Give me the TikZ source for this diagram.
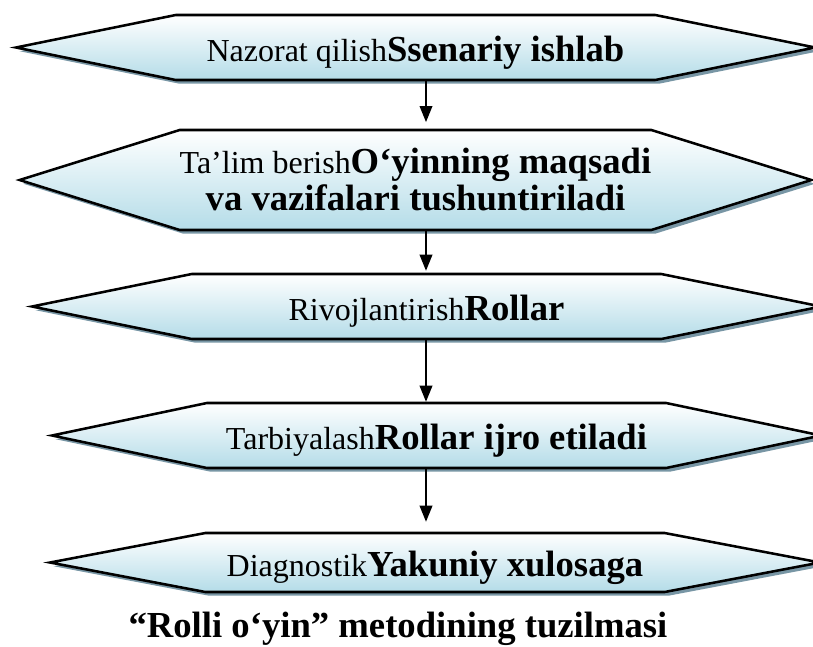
\documentclass[tikz,border=0pt]{standalone}
\usepackage{fontspec}
\setmainfont{Liberation Serif}
\usetikzlibrary{shapes.symbols,shadows,arrows.meta}
\definecolor{boxblue}{RGB}{180,220,232}
\definecolor{shadowblue}{RGB}{120,150,165}
\newcommand{\bigb}[1]{{\fontsize{27.5}{33}\selectfont\bfseries #1}}

\begin{document}
\begin{tikzpicture}[
    x=0.75pt, y=-0.75pt,
    % Hexagon step boxes
    stepbox/.style={signal, signal to=west and east, draw=black, line width=1.9pt,
        top color=white, bottom color=boxblue, inner sep=0pt,
        font=\fontsize{24}{27.75}\selectfont,
        drop shadow={shadow xshift=2.8pt, shadow yshift=-2.8pt, fill=shadowblue, opacity=1}},
    oneline/.style={text height=20.5pt, text depth=0pt},
    % Arrow style
    arrow/.style={-{Triangle[length=12pt, width=9.5pt]}, line width=1.1pt},
    caption/.style={font=\fontsize{27.5}{33}\selectfont\bfseries, anchor=base}
]
    \useasboundingbox (0,0) rectangle (813,646);

    % Steps - top to bottom
    \node[stepbox, oneline, minimum width=599.25pt, minimum height=48.75pt, signal pointer angle=23]
        (nazorat) at (415.5,47.5) {Nazorat qilish\bigb{Ssenariy ishlab}};
    \node[stepbox, align=center, minimum width=591.75pt, minimum height=75pt, signal pointer angle=34.7]
        (talim) at (415.5,180) {Ta’lim berish\bigb{O‘yinning maqsadi}\\\bigb{va vazifalari tushuntiriladi}};
    \node[stepbox, oneline, minimum width=591.75pt, minimum height=48.75pt, signal pointer angle=23]
        (rivoj) at (426.5,306.5) {Rivojlantirish\bigb{Rollar}};
    \node[stepbox, oneline, minimum width=576.75pt, minimum height=48.75pt, signal pointer angle=23.7]
        (tarbiya) at (436.5,435.5) {Tarbiyalash\bigb{Rollar ijro etiladi}};
    \node[stepbox, oneline, minimum width=577.5pt, minimum height=44.25pt, signal pointer angle=21.5]
        (diagnostik) at (435,562.5) {Diagnostik\bigb{Yakuniy xulosaga}};

    % Connectors
    \coordinate (axis) at (426,0);
    \draw[arrow, shorten >=5pt] (nazorat.south -| axis) -- (talim.north -| axis);
    \draw[arrow, shorten >=1.5pt] (talim.south -| axis) -- (rivoj.north -| axis);
    \draw[arrow] (rivoj.south -| axis) -- (tarbiya.north -| axis);
    \draw[arrow, shorten >=7.5pt] (tarbiya.south -| axis) -- (diagnostik.north -| axis);

    % Caption
    \node[caption] (title) at (398,637) {“Rolli o‘yin” metodining tuzilmasi};
\end{tikzpicture}
\end{document}
